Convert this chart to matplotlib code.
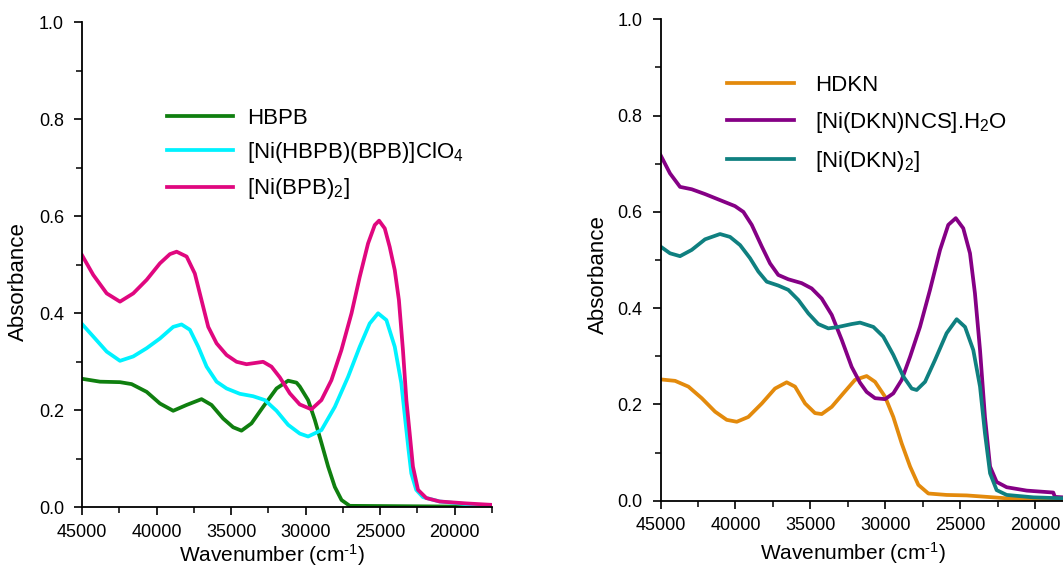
import matplotlib
matplotlib.use("Agg")
import matplotlib.pyplot as plt
from matplotlib.ticker import MultipleLocator, FormatStrFormatter

# left panel: wavenumber (cm-1) / absorbance
hbpb_wn = [45000, 43790, 42450, 41670, 40660, 39770, 38880, 37980, 36980, 36310,
           35530, 34860, 34300, 33630, 32850, 31950, 31170, 30610, 30390, 29830,
           29380, 28930, 28490, 28040, 27590, 27040, 17500]
hbpb_abs = [0.265, 0.259, 0.258, 0.254, 0.238, 0.214, 0.199, 0.211, 0.223, 0.211,
            0.183, 0.165, 0.158, 0.173, 0.207, 0.245, 0.261, 0.257, 0.249, 0.221,
            0.180, 0.132, 0.084, 0.042, 0.015, 0.003, 0.001]

niclo4_wn = [45000, 44240, 43340, 42450, 41560, 40660, 39770, 38880, 38320, 37760,
             37200, 36640, 35970, 35300, 34410, 33520, 32730, 31950, 31170, 30390,
             29830, 28940, 28040, 27150, 26370, 25700, 25140, 24580, 24020, 23580,
             23290, 23100, 22910, 22580, 22130, 21010, 18770, 17500]
niclo4_abs = [0.378, 0.352, 0.321, 0.302, 0.311, 0.328, 0.348, 0.372, 0.377, 0.366,
              0.331, 0.290, 0.259, 0.245, 0.234, 0.229, 0.221, 0.199, 0.170, 0.152,
              0.146, 0.159, 0.207, 0.269, 0.331, 0.379, 0.400, 0.386, 0.331, 0.256,
              0.173, 0.120, 0.070, 0.036, 0.021, 0.012, 0.005, 0.004]

nibpb_wn = [45000, 44240, 43340, 42450, 41560, 40660, 39770, 39100, 38650, 37980,
            37430, 36980, 36530, 35970, 35300, 34630, 33960, 33290, 32850, 32290,
            31730, 31060, 30390, 29610, 28940, 28270, 27600, 26920, 26370, 25810,
            25360, 25070, 24690, 24360, 24020, 23740, 23470, 23240, 23020, 22800,
            22460, 21900, 21010, 19220, 17500]
nibpb_abs = [0.520, 0.479, 0.441, 0.424, 0.441, 0.469, 0.503, 0.522, 0.527, 0.517,
             0.482, 0.427, 0.372, 0.338, 0.314, 0.300, 0.295, 0.298, 0.300, 0.290,
             0.268, 0.235, 0.212, 0.202, 0.221, 0.262, 0.324, 0.400, 0.475, 0.544,
             0.582, 0.591, 0.575, 0.537, 0.489, 0.427, 0.324, 0.221, 0.153, 0.084,
             0.036, 0.019, 0.012, 0.008, 0.005]

# right panel
hdkn_wn = [45000, 44030, 43140, 42250, 41360, 40580, 39910, 39140, 38240, 37360,
           36580, 36020, 35350, 34690, 34240, 33570, 32800, 32020, 31240, 30680,
           30010, 29460, 28900, 28340, 27790, 27120, 25900, 24560, 23220, 21890,
           20550, 18130]
hdkn_abs = [0.252, 0.249, 0.237, 0.213, 0.185, 0.168, 0.164, 0.174, 0.202, 0.233,
            0.246, 0.237, 0.202, 0.182, 0.180, 0.195, 0.223, 0.251, 0.259, 0.247,
            0.216, 0.174, 0.119, 0.071, 0.033, 0.015, 0.012, 0.011, 0.008, 0.005,
            0.003, 0.002]

nincs_wn = [45000, 44370, 43700, 42920, 42030, 40910, 40030, 39470, 38910, 38240,
            37690, 37140, 36470, 35580, 34910, 34240, 33570, 32900, 32240, 31680,
            31240, 30680, 30010, 29460, 28900, 28340, 27680, 27010, 26340, 25790,
            25290, 24790, 24340, 24010, 23670, 23340, 23000, 22560, 21890, 20550,
            18780, 18670, 18130]
nincs_abs = [0.718, 0.680, 0.652, 0.647, 0.637, 0.623, 0.612, 0.600, 0.573, 0.528,
             0.493, 0.469, 0.460, 0.452, 0.441, 0.420, 0.386, 0.334, 0.278, 0.245,
             0.226, 0.213, 0.211, 0.223, 0.251, 0.299, 0.361, 0.438, 0.521, 0.573,
             0.587, 0.566, 0.514, 0.431, 0.313, 0.174, 0.071, 0.039, 0.028, 0.021,
             0.017, 0.008, 0.007]

nidkn_wn = [45000, 44370, 43700, 42920, 42030, 41030, 40360, 39690, 39030, 38470,
            37910, 37140, 36470, 35800, 35130, 34470, 33800, 33130, 32240, 31680,
            30790, 30130, 29460, 28790, 28230, 27900, 27340, 26680, 25900, 25230,
            24670, 24120, 23670, 23340, 23000, 22560, 21890, 20110, 18130]
nidkn_abs = [0.528, 0.514, 0.508, 0.521, 0.543, 0.554, 0.548, 0.531, 0.504, 0.476,
             0.455, 0.447, 0.438, 0.417, 0.389, 0.367, 0.358, 0.361, 0.367, 0.370,
             0.361, 0.341, 0.303, 0.258, 0.233, 0.230, 0.247, 0.292, 0.348, 0.377,
             0.361, 0.313, 0.237, 0.140, 0.057, 0.022, 0.012, 0.007, 0.005]

plt.rcParams.update({
    "font.family": ["Liberation Sans", "DejaVu Sans"],
    "mathtext.fontset": "custom",
    "mathtext.rm": "Liberation Sans",
    "mathtext.it": "Liberation Sans",
    "font.size": 13,
})


def style_axes(ax, x_right, xlab_pos, ylab_pos):
    ax.set_xlim(45000, x_right)
    ax.set_ylim(0.0, 1.0)
    ax.spines["top"].set_visible(False)
    ax.spines["right"].set_visible(False)
    ax.spines["left"].set_linewidth(1.3)
    ax.spines["bottom"].set_linewidth(1.3)
    ax.xaxis.set_major_locator(MultipleLocator(5000))
    ax.xaxis.set_minor_locator(MultipleLocator(2500))
    ax.yaxis.set_major_locator(MultipleLocator(0.2))
    ax.yaxis.set_minor_locator(MultipleLocator(0.1))
    ax.yaxis.set_major_formatter(FormatStrFormatter("%.1f"))
    ax.tick_params(which="major", direction="out", length=6, width=1.2, labelsize=13)
    ax.tick_params(which="minor", direction="out", length=4.5, width=1.1)
    ax.tick_params(axis="x", which="major", pad=6)
    ax.tick_params(axis="y", which="major", pad=7)
    ax.set_xlabel(r"Wavenumber (cm$^{\text{-1}}$)", fontsize=15)
    ax.set_ylabel("Absorbance", fontsize=16)
    ax.xaxis.label.set_va("baseline")
    ax.xaxis.set_label_coords(*xlab_pos)
    ax.yaxis.label.set_va("center")
    ax.yaxis.set_label_coords(*ylab_pos)


fig = plt.figure(figsize=(10.63, 5.67), dpi=100)
ax1 = fig.add_axes([0.0771, 0.1053, 0.3857, 0.8554])
ax2 = fig.add_axes([0.6214, 0.1169, 0.3786, 0.8490])

lw = 2.7
ax1.plot(hbpb_wn, hbpb_abs, color="#0f7f0f", lw=lw, label="HBPB")
ax1.plot(niclo4_wn, niclo4_abs, color="#00f2ff", lw=lw, label="[Ni(HBPB)(BPB)]ClO$_4$")
ax1.plot(nibpb_wn, nibpb_abs, color="#e0077f", lw=lw, label="[Ni(BPB)$_2$]")
style_axes(ax1, 17500, (0.463, -0.1134), (-0.155, 0.466))
ax1.legend(loc="upper left", bbox_to_anchor=(0.207, 0.823), frameon=False,
           fontsize=16, handlelength=3.0, handletextpad=0.6, labelspacing=0.5,
           borderpad=0, borderaxespad=0)

ax2.plot(hdkn_wn, hdkn_abs, color="#e38a0c", lw=lw, label="HDKN")
ax2.plot(nincs_wn, nincs_abs, color="#850085", lw=lw, label="[Ni(DKN)NCS].H$_2$O")
ax2.plot(nidkn_wn, nidkn_abs, color="#0f8080", lw=lw, label="[Ni(DKN)$_2$]")
style_axes(ax2, 18130, (0.478, -0.123), (-0.154, 0.469))
ax2.legend(loc="upper left", bbox_to_anchor=(0.165, 0.885), frameon=False,
           fontsize=16, handlelength=3.0, handletextpad=0.97, labelspacing=0.63,
           borderpad=0, borderaxespad=0)

fig.savefig("out.png", dpi=100)
